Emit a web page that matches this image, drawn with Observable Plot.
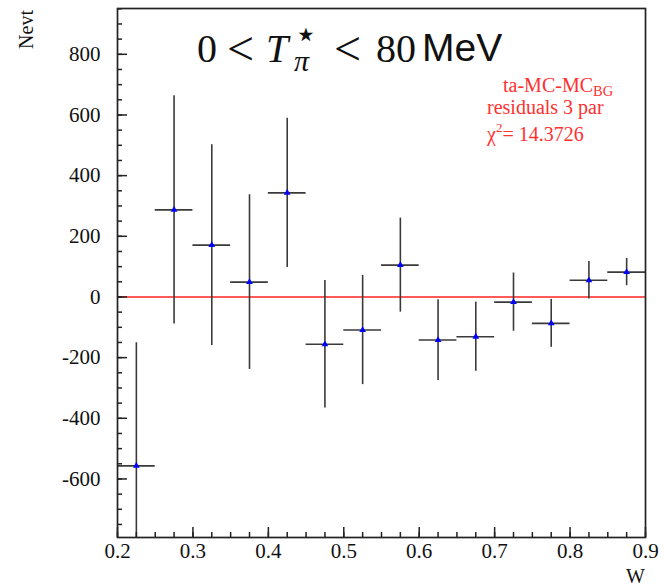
<!DOCTYPE html>
<html><head><meta charset="utf-8">
<script src="https://cdn.jsdelivr.net/npm/d3@7"></script>
<script src="https://cdn.jsdelivr.net/npm/@observablehq/plot@0.6"></script>
<style>
body{margin:0;background:#fff}
svg text{font-family:"Liberation Serif","Times New Roman",serif}
svg text.sans{font-family:"Liberation Sans",Arial,sans-serif}
svg text.dj{font-family:"DejaVu Sans",sans-serif}
</style>
</head><body><div id="chart"></div>
<script>
// bin centres (W), residual values (Nevt) and their errors
const wCenters = [0.225, 0.275, 0.325, 0.375, 0.425, 0.475, 0.525, 0.575, 0.625, 0.675, 0.725, 0.775, 0.825, 0.875];
const values   = [-557, 287, 171, 49, 343, -156, -109, 105, -142, -131, -17, -87, 55, 82];
const errors   = [406, 376, 331, 288, 246, 210, 180, 155, 133, 114, 96, 79, 62, 45];
const binHalfWidth = 0.025;
const xTickLabels = [0.2, 0.3, 0.4, 0.5, 0.6, 0.7, 0.8, 0.9];
const yTickLabels = [-600, -400, -200, 0, 200, 400, 600, 800];
const xMinorTicks = d3.range(0.2, 0.9001, 0.025);
const yMinorTicks = d3.range(-750, 951, 50);
const xDomain = [0.2, 0.9];
const yDomain = [-793, 951];

const data = wCenters.map((w, i) => ({w, v: values[i], e: errors[i]}));

const plot = Plot.plot({
  width: 664, height: 586,
  marginLeft: 117, marginRight: 19, marginTop: 8, marginBottom: 49,
  style: {fontFamily: '"Liberation Serif", "Times New Roman", serif', fontSize: "21px", background: "white", overflow: "visible", color: "#222"},
  x: {domain: xDomain, label: null},
  y: {domain: yDomain, label: null},
  marks: [
    Plot.ruleY([0], {stroke: "#ff5a5a", strokeWidth: 2}),
    Plot.ruleX(data, {x: "w", y1: d => d.v - d.e, y2: d => d.v + d.e, stroke: "#3a3a3a", strokeWidth: 1.6, clip: true}),
    Plot.ruleY(data, {y: "v", x1: d => d.w - binHalfWidth, x2: d => d.w + binHalfWidth, stroke: "#3a3a3a", strokeWidth: 1.6}),
    Plot.dot(data, {x: "w", y: "v", symbol: "triangle", r: 2.5, fill: "#0000ff", stroke: null}),
    // minor ticks
    Plot.axisX(xMinorTicks, {anchor: "bottom", tickSize: -5, text: null, stroke: "#222", strokeWidth: 1.5}),
    Plot.axisY(yMinorTicks, {anchor: "left", tickSize: -5, text: null, stroke: "#222", strokeWidth: 1.5}),
    // major ticks
    Plot.axisX(xTickLabels, {anchor: "bottom", tickSize: -10, text: null, stroke: "#222", strokeWidth: 1.5}),
    Plot.axisY(yTickLabels, {anchor: "left", tickSize: -10, text: null, stroke: "#222", strokeWidth: 1.5}),
    // labels
    Plot.axisX(xTickLabels, {anchor: "bottom", tickSize: 0, tickPadding: 6, tickFormat: d3.format(".1f"), fill: "#111", label: null}),
    Plot.axisY(yTickLabels, {anchor: "left", tickSize: 0, tickPadding: 17, tickFormat: d => String(d), fill: "#111", label: null}),
    Plot.frame({stroke: "#222", strokeWidth: 1.7})
  ]
});
document.getElementById("chart").appendChild(plot);

const svg = d3.select(plot);
// axis titles
svg.append("text").attr("transform", "translate(33,10) rotate(-90)")
  .attr("text-anchor", "end").attr("font-size", 20).attr("fill", "#111").text("Nevt");
svg.append("text").attr("x", 645).attr("y", 583).attr("text-anchor", "end")
  .attr("font-size", 20).attr("fill", "#111").text("W");

// title 0 < T_pi^star < 80 MeV
const tg = svg.append("g").attr("fill", "#111").attr("text-anchor", "start");
const tpart = (x, y, txt, size, cls, style) => tg.append("text").attr("x", x).attr("y", y)
  .attr("class", cls || null).attr("font-size", size).attr("font-style", style || "normal").text(txt);
tpart(197, 62, "0", 40);
tpart(227, 65, "<", 48);
tpart(266, 62, "T", 40, null, "italic");
tpart(294, 71, "π", 30, null, "italic");
tpart(294, 47, "⋆", 38, "dj");
tpart(334, 65, "<", 48);
tpart(376, 62, "80", 40);
tpart(422, 61, "MeV", 39, "sans");

// red statistics text
const red = "#ff3030";
const rg = svg.append("g").attr("fill", red).attr("text-anchor", "start");
const l1 = rg.append("text").attr("x", 503).attr("y", 92).attr("font-size", 20);
l1.append("tspan").text("ta-MC-MC");
l1.append("tspan").attr("font-size", 14.5).attr("dy", 4).text("BG");
rg.append("text").attr("x", 487).attr("y", 114).attr("font-size", 20).text("residuals 3 par");
const l3 = rg.append("text").attr("x", 487).attr("y", 141).attr("font-size", 20);
l3.append("tspan").text("χ");
l3.append("tspan").attr("font-size", 13).attr("dy", -9).text("2");
l3.append("tspan").attr("dy", 9).text("= 14.3726");
</script>
</body></html>
